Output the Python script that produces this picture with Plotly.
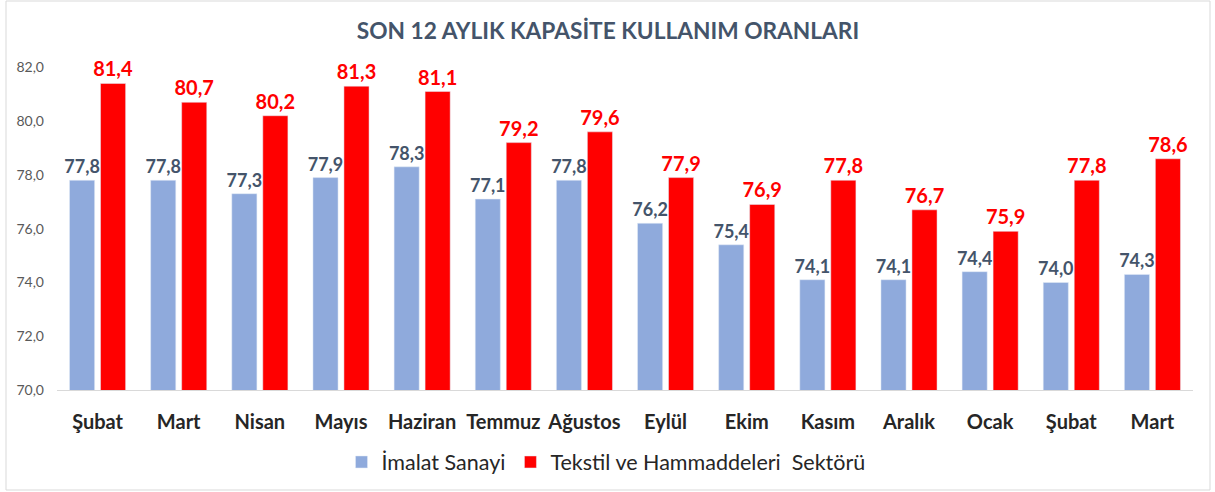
import plotly.graph_objects as go

months = ["Şubat", "Mart", "Nisan", "Mayıs", "Haziran", "Temmuz", "Ağustos",
          "Eylül", "Ekim", "Kasım", "Aralık", "Ocak", "Şubat", "Mart"]
imalat = [77.8, 77.8, 77.3, 77.9, 78.3, 77.1, 77.8, 76.2, 75.4, 74.1, 74.1, 74.4, 74.0, 74.3]
tekstil = [81.4, 80.7, 80.2, 81.3, 81.1, 79.2, 79.6, 77.9, 76.9, 77.8, 76.7, 75.9, 77.8, 78.6]
y_ticks = [70, 72, 74, 76, 78, 80, 82]

FONT = "Lato"
idx = list(range(len(months)))

fig = go.Figure()
fig.add_trace(go.Bar(
    x=idx, y=imalat, name="İmalat Sanayi",
    marker=dict(color="#8FAADC"),
    text=imalat, texttemplate="%{y:.1f}", textposition="outside",
    constraintext="none",
    textfont=dict(family=FONT, size=18, color="#44546A", weight="bold"),
    cliponaxis=False,
))
fig.add_trace(go.Bar(
    x=idx, y=tekstil, name="Tekstil ve Hammaddeleri\u00a0 Sektörü",
    marker=dict(color="#FF0000"),
    text=tekstil, texttemplate="%{y:.1f}", textposition="outside",
    constraintext="none",
    textfont=dict(family=FONT, size=20, color="#FF0000", weight="bold"),
    cliponaxis=False,
))

L, R, T, B = 57, 22, 27, 102
W, H = 1215, 492
pw, ph = W - L - R, H - T - B

def px_x(px):
    return (px - L) / pw

def px_y(py):
    return (H - B - py) / ph

fig.update_layout(
    width=W, height=H,
    margin=dict(l=L, r=R, t=T, b=B, autoexpand=False),
    paper_bgcolor="white", plot_bgcolor="white",
    separators=",.",
    barmode="group", bargap=0.236, bargroupgap=0.19,
    title=dict(text="<b>SON 12 AYLIK KAPASİTE KULLANIM ORANLARI</b>",
               x=608 / W, xanchor="center", y=1 - 31 / H, yanchor="middle",
               font=dict(family=FONT, size=22.7, color="#44546A")),
    legend=dict(orientation="h", x=px_x(606), xanchor="center",
                y=px_y(462), yanchor="middle",
                font=dict(family=FONT, size=21.5, color="#262626"),
                itemwidth=30, traceorder="normal"),
    font=dict(family=FONT),
    shapes=[dict(type="rect", xref="paper", yref="paper",
                 x0=px_x(6), x1=px_x(1210), y0=px_y(490), y1=px_y(1),
                 line=dict(color="#D9D9D9", width=1), layer="below")],
)
fig.update_xaxes(
    tickvals=idx, ticktext=months, range=[-0.5, len(months) - 0.5],
    showline=True, linecolor="#D9D9D9", linewidth=1, ticks="",
    tickfont=dict(family=FONT, size=20, color="#262626", weight="bold"),
    showgrid=False, zeroline=False, ticklabelstandoff=14,
)
fig.update_yaxes(
    range=[70, 83.5], tickvals=y_ticks, tickformat=".1f",
    showgrid=False, zeroline=False, showline=False,
    tickfont=dict(family=FONT, size=14, color="#595959"),
    ticks="", ticklabelstandoff=12,
)

fig.write_html("out.html", config={"displayModeBar": False},
               post_script="document.body.style.margin='0px';")
